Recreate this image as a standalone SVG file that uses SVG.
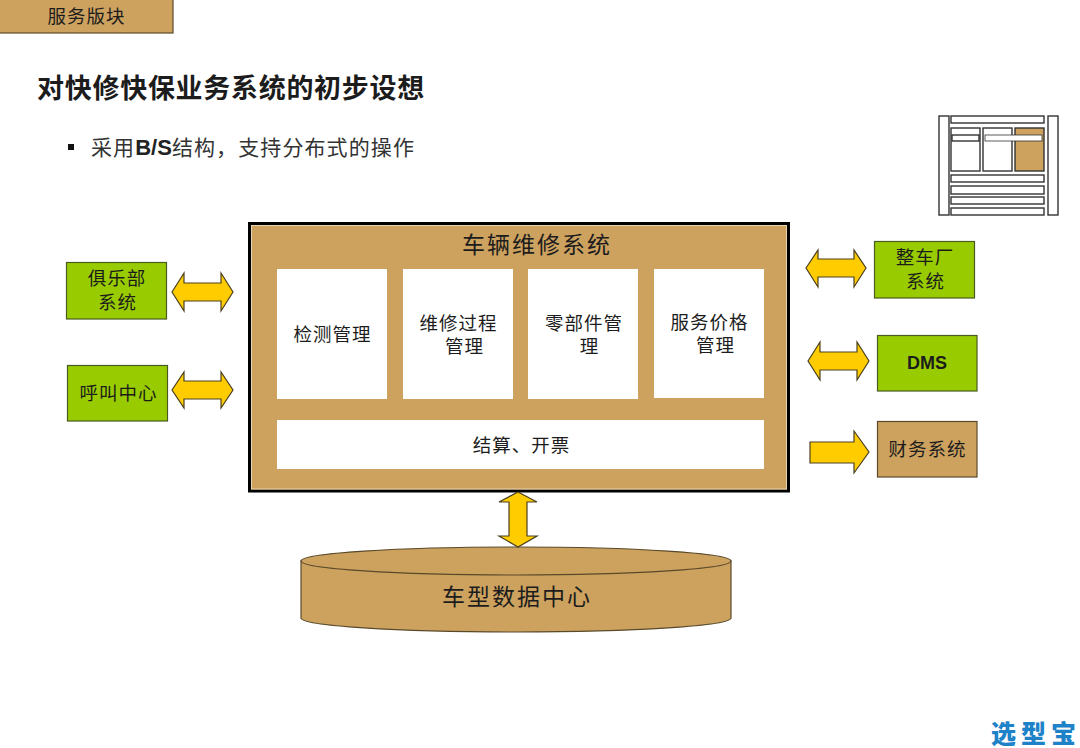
<svg xmlns="http://www.w3.org/2000/svg" width="1080" height="748" viewBox="0 0 1080 748">
<style>
text{font-family:"Noto Sans CJK SC","Liberation Sans",sans-serif;fill:#1c1c1c;text-anchor:middle}
.t19{font-size:18.5px;letter-spacing:1px}
.t24{font-size:23px;letter-spacing:2px}
.lat{font-family:"Liberation Sans",Arial,sans-serif;font-weight:700}
.green{fill:#99cc00;stroke:#4a5a20;stroke-width:1.2}
.tan{fill:#cda25f;stroke:#5a4a2a;stroke-width:1.2}
.white{fill:#fff}
.arrow{fill:#ffcc00;stroke:#4a4020;stroke-width:1.2;stroke-linejoin:miter}
.ic{fill:#fff;stroke:#333;stroke-width:1.4}
</style>
<rect width="1080" height="748" fill="#fff"/>
<g id="tab">
<rect class="tan" x="-2" y="-2" width="175" height="35"/>
<text class="t19" x="86.500" y="23">服务版块</text>
</g>
<text id="title" x="231" y="98" style="font-size:27px;font-weight:700;letter-spacing:0.7px">对快修快保业务系统的初步设想</text>
<g id="bullet">
<rect x="68" y="144" width="6" height="6" fill="#111"/>
<text x="91" y="155" style="font-size:21px;letter-spacing:1.1px;text-anchor:start;fill:#333">采用<tspan class="lat" style="fill:#222;letter-spacing:0;font-size:22px">B/S</tspan>结构，支持分布式的操作</text>
</g>
<g id="icon">
<rect class="ic" x="939" y="116" width="10" height="99"/>
<rect class="ic" x="1048" y="116" width="10" height="99"/>
<rect class="ic" x="951" y="116" width="93" height="7"/>
<rect class="ic" x="951" y="128" width="29" height="43"/>
<rect class="ic" x="983" y="128" width="29" height="43"/>
<rect class="ic" x="1015" y="128" width="29" height="43" style="fill:#cda25f"/>
<rect class="ic" x="952" y="135" width="27" height="6"/>
<rect x="985" y="135" width="57" height="6" fill="#fff" stroke="#333" stroke-width="0.8"/>
<rect class="ic" x="951" y="175" width="93" height="7"/>
<rect class="ic" x="951" y="186" width="93" height="8"/>
<rect class="ic" x="951" y="197" width="93" height="7"/>
<rect class="ic" x="951" y="208" width="93" height="7"/>
</g>
<g id="main-system">
<rect x="249.500" y="223.500" width="539" height="267.500" fill="#cda25f" stroke="#000" stroke-width="3"/>
<rect x="251.500" y="225.500" width="535" height="263.500" fill="none" stroke="#e6d5b0" stroke-width="1"/>
<text class="t24" x="537" y="253">车辆维修系统</text>
</g>
<g id="jiance"><rect class="white" x="277" y="269" width="110" height="130"/><text class="t19" x="332.500" y="341">检测管理</text></g>
<g id="weixiu"><rect class="white" x="403" y="269" width="110" height="130"/><text class="t19"><tspan x="458.500" y="330">维修过程</tspan><tspan x="464.500" y="353">管理</tspan></text></g>
<g id="lingbujian"><rect class="white" x="528" y="269" width="110" height="130"/><text class="t19"><tspan x="584" y="330">零部件管</tspan><tspan x="589.500" y="353">理</tspan></text></g>
<g id="jiage"><rect class="white" x="654" y="269" width="110" height="129"/><text class="t19"><tspan x="709.500" y="329">服务价格</tspan><tspan x="715.500" y="352">管理</tspan></text></g>
<g id="jiesuan"><rect class="white" x="277" y="420" width="487" height="49"/><text class="t19" x="521.500" y="452">结算、开票</text></g>
<g id="club"><rect class="green" x="66.500" y="262.500" width="100" height="56.500"/><text class="t19"><tspan x="117" y="285">俱乐部</tspan><tspan x="117.500" y="309">系统</tspan></text></g>
<g id="callcenter"><rect class="green" x="67.500" y="365.500" width="100" height="55.500"/><text class="t19" x="118.500" y="400">呼叫中心</text></g>
<g id="oem"><rect class="green" x="874.500" y="241.500" width="100" height="56.500"/><text class="t19"><tspan x="925" y="264">整车厂</tspan><tspan x="925.500" y="288">系统</tspan></text></g>
<g id="dms"><rect class="green" x="877.500" y="335.500" width="99.500" height="55.500"/><text class="lat" x="927" y="369" style="font-size:18px">DMS</text></g>
<g id="finance"><rect class="tan" x="877.500" y="421.500" width="99.500" height="55.500"/><text class="t19" x="927.500" y="456">财务系统</text></g>
<g id="database">
<path class="tan" d="M301 561V618A215 14 0 0 0 731 618V561Z"/>
<ellipse class="tan" cx="516" cy="561" rx="215" ry="14"/>
<text class="t24" x="517" y="605">车型数据中心</text>
</g>
<g id="connectors">
<path class="arrow" d="M172 292L184 273V283H221V273L233 292L221 311V301H184V311Z"/>
<path class="arrow" d="M172 390L184 372V381H221V372L233 390L221 408V399H184V408Z"/>
<path class="arrow" d="M806 268L818 250V259H854V250L866 268L854 287V277H818V287Z"/>
<path class="arrow" d="M808 361L820 342V352H857V342L869 361L857 380V370H820V380Z"/>
<path class="arrow" d="M810 442H854V431L869 452L854 473V463H810Z"/>
<path class="arrow" d="M518 492L537 502H527V536H537L518 547L499 536H509V502H499Z"/>
</g>
<text id="logo" x="1036" y="743" style="font-size:25px;font-weight:900;letter-spacing:5px;fill:#1e82c8">选型宝</text>
</svg>
